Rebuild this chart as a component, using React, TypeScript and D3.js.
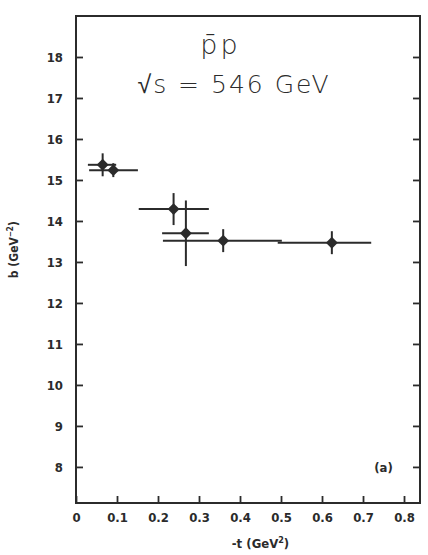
import * as d3 from "d3";
import React, { useEffect, useRef } from "react";

// -t values (GeV^2), slope b (GeV^-2), and error bars
const tValues = [0.065, 0.091, 0.238, 0.268, 0.359, 0.624];
const bValues = [15.37, 15.24, 14.29, 13.7, 13.52, 13.47];
const bErrors = [0.28, 0.17, 0.39, 0.8, 0.28, 0.28];
const tLow = [0.029, 0.032, 0.153, 0.21, 0.212, 0.492];
const tHigh = [0.098, 0.151, 0.324, 0.324, 0.502, 0.72];

const xTicks = [0, 0.1, 0.2, 0.3, 0.4, 0.5, 0.6, 0.7, 0.8];
const yTicks = [8, 9, 10, 11, 12, 13, 14, 15, 16, 17, 18];

export default function App() {
  const svgRef = useRef<SVGSVGElement>(null);

  useEffect(() => {
    const svg = d3.select(svgRef.current);
    svg.selectAll("*").remove();

    const width = 428;
    const height = 555;
    const margin = { top: 16, right: 8, bottom: 52, left: 76 };
    const plotWidth = width - margin.left - margin.right;
    const plotHeight = height - margin.top - margin.bottom;
    const ink = "#2b2b2b";
    const font = "'DejaVu Sans Condensed', 'DejaVu Sans', sans-serif";
    const titleFont = "'DejaVu Sans', sans-serif";

    const g = svg.append("g")
      .attr("transform", `translate(${margin.left},${margin.top})`);

    const xScale = d3.scaleLinear().domain([0, 0.839]).range([0, plotWidth]);
    const yScale = d3.scaleLinear().domain([7.12, 19.0]).range([plotHeight, 0]);

    // Frame
    g.append("rect")
      .attr("width", plotWidth)
      .attr("height", plotHeight)
      .attr("fill", "none")
      .attr("stroke", ink)
      .attr("stroke-width", 2);

    // Left axis, ticks pointing inward
    const yAxis = g.append("g")
      .call(d3.axisLeft(yScale).tickValues(yTicks).tickSize(-7).tickPadding(13).tickFormat(d3.format("d")));
    yAxis.select(".domain").remove();
    yAxis.selectAll("line").attr("stroke", ink).attr("stroke-width", 1.8);
    yAxis.selectAll("text")
      .attr("fill", ink)
      .style("font-family", font)
      .style("font-size", "13px")
      .style("font-weight", "bold");

    // Right axis ticks, inward
    const yAxisR = g.append("g")
      .attr("transform", `translate(${plotWidth},0)`)
      .call(d3.axisRight(yScale).tickValues(yTicks).tickSize(-7).tickFormat(() => ""));
    yAxisR.select(".domain").remove();
    yAxisR.selectAll("line").attr("stroke", ink).attr("stroke-width", 1.8);

    // Bottom axis, ticks inward
    const xAxis = g.append("g")
      .attr("transform", `translate(0,${plotHeight})`)
      .call(d3.axisBottom(xScale).tickValues(xTicks).tickSize(-7).tickPadding(10)
        .tickFormat(d => (d === 0 ? "0" : d3.format(".1f")(d as number))));
    xAxis.select(".domain").remove();
    xAxis.selectAll("line").attr("stroke", ink).attr("stroke-width", 1.8);
    xAxis.selectAll("text")
      .attr("fill", ink)
      .style("font-family", font)
      .style("font-size", "13px")
      .style("font-weight", "bold");

    // Axis labels
    const xl = g.append("text")
      .attr("x", xScale(0.45))
      .attr("y", plotHeight + 45)
      .attr("text-anchor", "middle")
      .attr("fill", ink)
      .style("font-family", font)
      .style("font-size", "13px")
      .style("font-weight", "bold");
    xl.append("tspan").text("-t  (GeV");
    xl.append("tspan").attr("dy", -5).style("font-size", "9px").text("2");
    xl.append("tspan").attr("dy", 5).text(")");

    const yl = g.append("text")
      .attr("transform", "rotate(-90)")
      .attr("x", -(yScale(13.3)))
      .attr("y", -58)
      .attr("text-anchor", "middle")
      .attr("fill", ink)
      .style("font-family", font)
      .style("font-size", "12px")
      .style("font-weight", "bold");
    yl.append("tspan").text("b  (GeV");
    yl.append("tspan").attr("dy", -5).style("font-size", "8px").text("−2");
    yl.append("tspan").attr("dy", 5).text(")");

    // Title
    const t1 = g.append("text")
      .attr("x", 143)
      .attr("y", 38)
      .attr("text-anchor", "middle")
      .attr("fill", ink)
      .style("font-family", titleFont)
      .style("font-size", "27px")
      .style("font-weight", "300");
    t1.append("tspan").text("p\u0304");
    t1.append("tspan").attr("dx", 3).text("p");

    g.append("text")
      .attr("x", 158)
      .attr("y", 77)
      .attr("text-anchor", "middle")
      .attr("fill", ink)
      .style("font-family", titleFont)
      .style("font-size", "25px")
      .style("font-weight", "300")
      .style("letter-spacing", "2px")
      .text("\u221As = 546  GeV");

    // Panel label
    g.append("text")
      .attr("x", xScale(0.75))
      .attr("y", yScale(8) + 5)
      .attr("text-anchor", "middle")
      .attr("fill", ink)
      .style("font-family", font)
      .style("font-size", "13px")
      .style("font-weight", "bold")
      .text("(a)");

    const points = tValues.map((t, i) => ({
      t, b: bValues[i], err: bErrors[i], lo: tLow[i], hi: tHigh[i]
    }));

    // Horizontal error bars (bin widths)
    g.append("g").selectAll("line")
      .data(points)
      .join("line")
      .attr("x1", d => xScale(d.lo))
      .attr("x2", d => xScale(d.hi))
      .attr("y1", d => yScale(d.b))
      .attr("y2", d => yScale(d.b))
      .attr("stroke", ink)
      .attr("stroke-width", 2);

    // Vertical error bars
    g.append("g").selectAll("line")
      .data(points)
      .join("line")
      .attr("x1", d => xScale(d.t))
      .attr("x2", d => xScale(d.t))
      .attr("y1", d => yScale(d.b - d.err))
      .attr("y2", d => yScale(d.b + d.err))
      .attr("stroke", ink)
      .attr("stroke-width", 2);

    // Diamond markers
    const diamond = d3.symbol().type(d3.symbolDiamond2).size(90);
    g.append("g").selectAll("path")
      .data(points)
      .join("path")
      .attr("transform", d => `translate(${xScale(d.t)},${yScale(d.b)})`)
      .attr("d", diamond)
      .attr("fill", ink);
  }, []);

  return (
    <svg
      ref={svgRef}
      width={428}
      height={555}
      style={{ position: "absolute", left: 0, top: 0, background: "#fff" }}
    ></svg>
  );
}
